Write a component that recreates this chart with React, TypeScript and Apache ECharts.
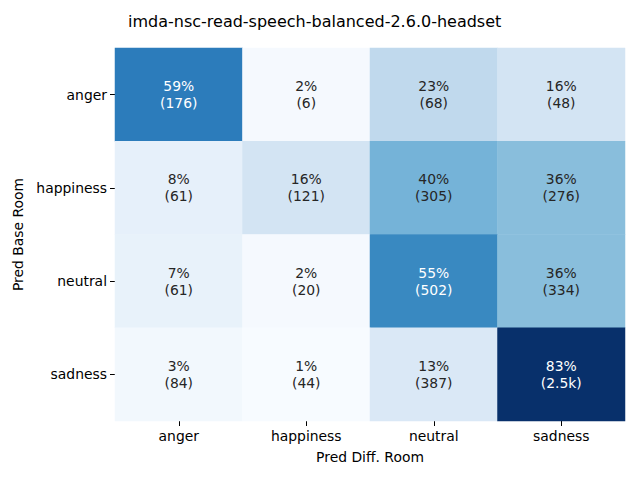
import React, { useEffect, useRef } from "react";
import * as echarts from "echarts";

const title = "imda-nsc-read-speech-balanced-2.6.0-headset";
const xCategories = ["anger", "happiness", "neutral", "sadness"];
const yCategories = ["anger", "happiness", "neutral", "sadness"];
// percentages per row (row = Pred Base Room)
const pctAnger = [59, 2, 23, 16];
const pctHappiness = [8, 16, 40, 36];
const pctNeutral = [7, 2, 55, 36];
const pctSadness = [3, 1, 13, 83];
// counts
const cntAnger = ["176", "6", "68", "48"];
const cntHappiness = ["61", "121", "305", "276"];
const cntNeutral = ["61", "20", "502", "334"];
const cntSadness = ["84", "44", "387", "2.5k"];

const pctRows = [pctAnger, pctHappiness, pctNeutral, pctSadness];
const cntRows = [cntAnger, cntHappiness, cntNeutral, cntSadness];

const blues = ["#f7fbff", "#deebf7", "#c6dbef", "#9ecae1", "#6baed6", "#4292c6", "#2171b5", "#08519c", "#08306b"];

export default function App() {
  const ref = useRef<HTMLDivElement>(null);
  useEffect(() => {
    if (!ref.current) return;
    const chart = echarts.init(ref.current, undefined, { renderer: "svg" });
    const data: any[] = [];
    pctRows.forEach((row, yi) => {
      row.forEach((v, xi) => {
        data.push({
          value: [xi, yi, v, cntRows[yi][xi]],
          label: { color: v > 45 ? "#ffffff" : "#262626" },
        });
      });
    });
    const font = "DejaVu Sans";
    chart.setOption({
      animation: false,
      textStyle: { fontFamily: font },
      title: {
        text: title,
        left: 123,
        top: 8,
        textStyle: { fontFamily: font, fontSize: 16, fontWeight: "normal", color: "#000" },
      },
      grid: { left: 115, right: 15, top: 48, bottom: 59 },
      xAxis: {
        type: "category",
        data: xCategories,
        name: "Pred Diff. Room",
        nameLocation: "middle",
        nameGap: 29,
        nameTextStyle: { fontFamily: font, fontSize: 13.9, color: "#000" },
        axisLine: { show: false },
        axisTick: { show: true, alignWithLabel: true, length: 5, lineStyle: { color: "#000" } },
        axisLabel: { fontFamily: font, fontSize: 13.9, color: "#000", margin: 8 },
        splitLine: { show: false },
      },
      yAxis: {
        type: "category",
        data: yCategories,
        inverse: true,
        name: "Pred Base Room",
        nameLocation: "middle",
        nameGap: 88,
        nameRotate: 90,
        nameTextStyle: { fontFamily: font, fontSize: 13.9, color: "#000" },
        axisLine: { show: false },
        axisTick: { show: true, alignWithLabel: true, length: 5, lineStyle: { color: "#000" } },
        axisLabel: { fontFamily: font, fontSize: 13.9, color: "#000", margin: 8 },
        splitLine: { show: false },
      },
      visualMap: {
        show: false,
        type: "continuous",
        min: 1,
        max: 83,
        dimension: 2,
        inRange: { color: blues },
      },
      series: [
        {
          type: "heatmap",
          data,
          label: {
            show: true,
            fontFamily: font,
            fontSize: 13.9,
            lineHeight: 17,
            formatter: (p: any) => `${p.value[2]}%\n(${p.value[3]})`,
          },
          itemStyle: { borderWidth: 0 },
          emphasis: { disabled: true },
        },
      ],
    });
    return () => chart.dispose();
  }, []);
  return <div ref={ref} style={{ position: "fixed", left: 0, top: 0, width: 640, height: 480, background: "#fff" }} />;
}
